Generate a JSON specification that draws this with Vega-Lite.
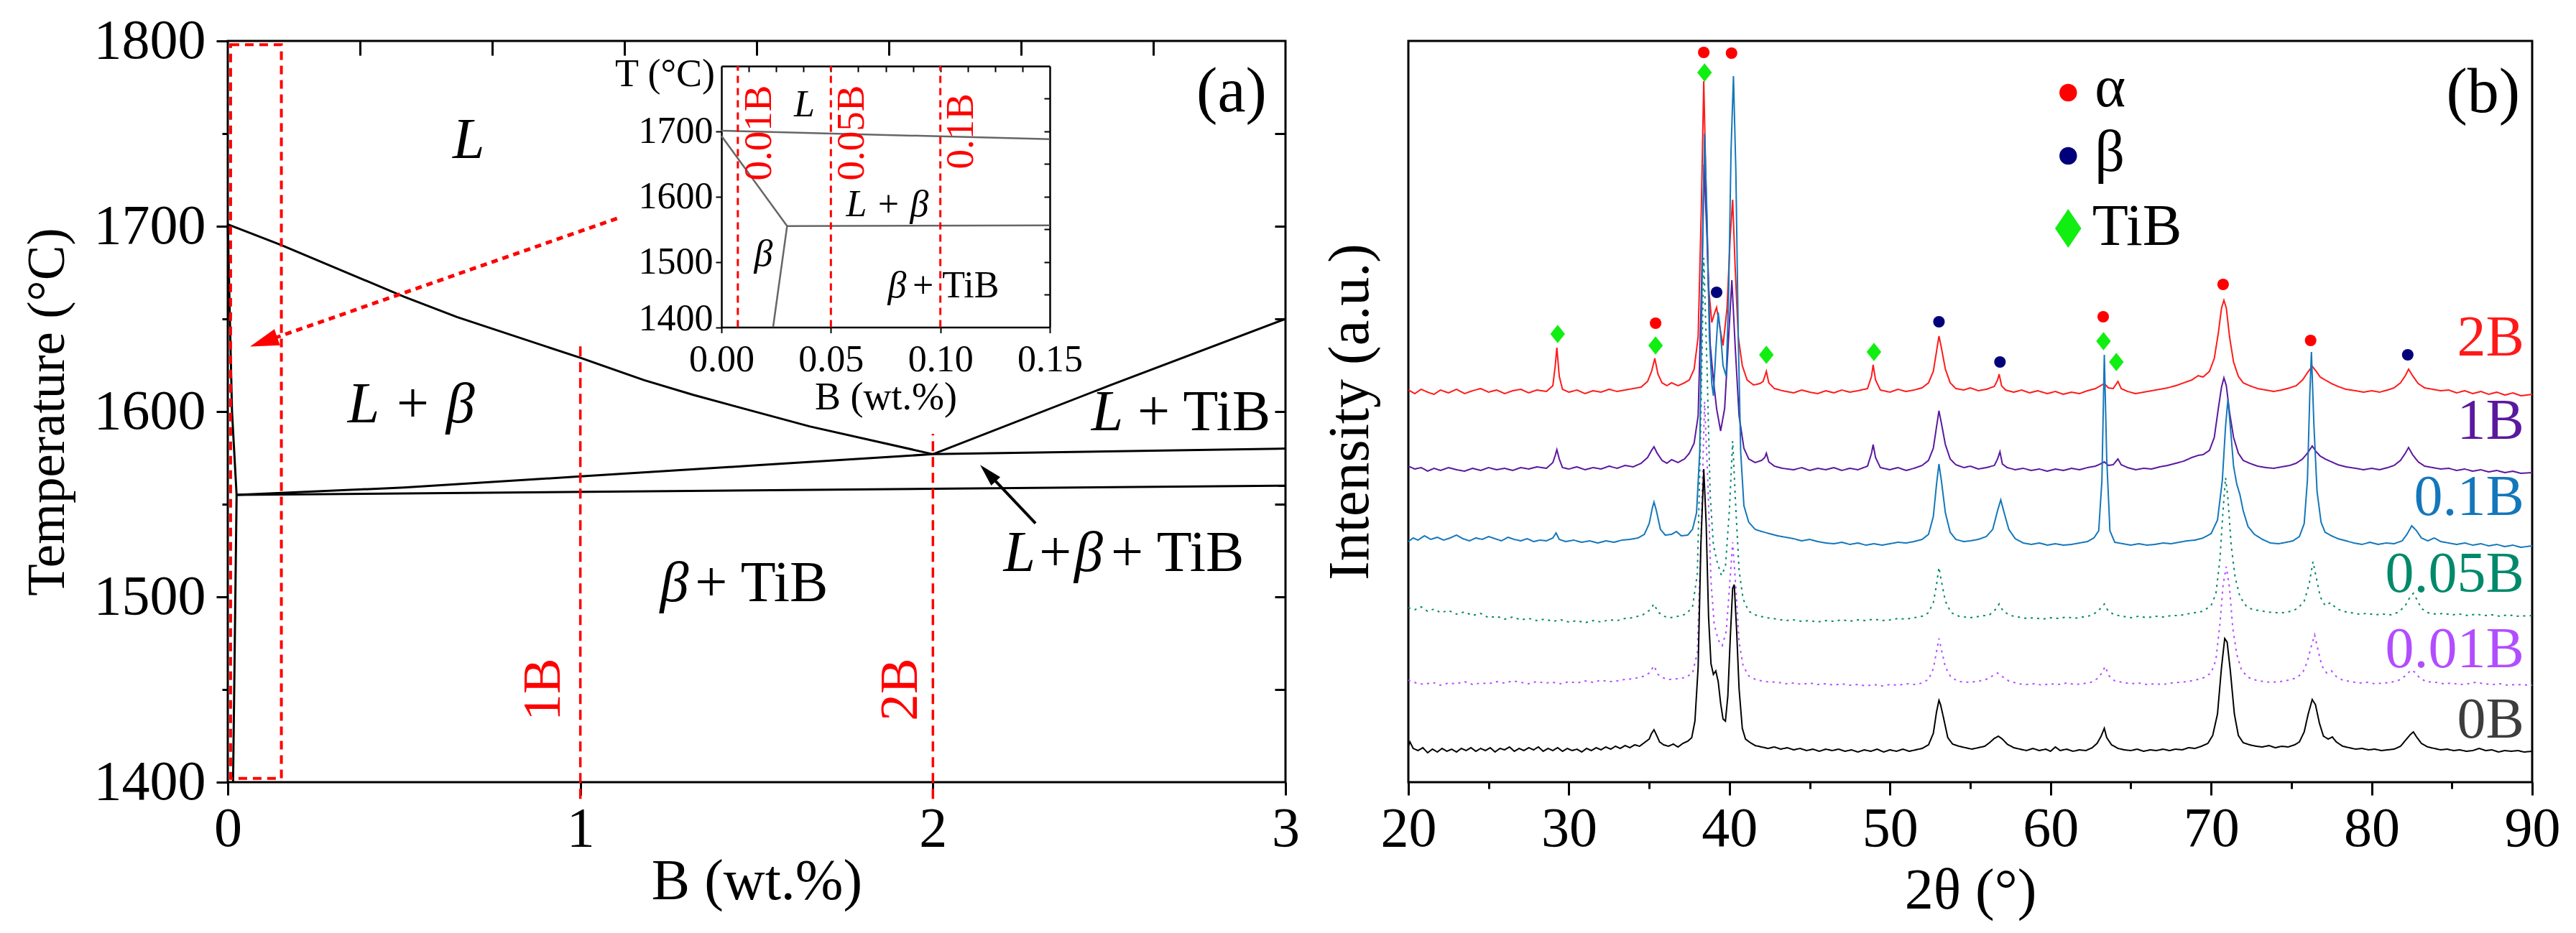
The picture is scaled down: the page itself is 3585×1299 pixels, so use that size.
{
"$schema": "https://vega.github.io/schema/vega-lite/v6.json",
"background": "white",
"padding": {"left": 28, "top": 16, "right": 0, "bottom": 0},
"bounds": "flush",
"spacing": 171,
"config": {
  "font": "Liberation Serif",
  "view": {"stroke": "black", "strokeWidth": 3},
  "axis": {"labelFont": "Liberation Serif", "titleFont": "Liberation Serif", "labelFontSize": 78, "titleFontSize": 80, "titleFontWeight": "normal", "labelColor": "black", "titleColor": "black", "tickColor": "black", "domainColor": "black", "grid": false, "tickWidth": 3, "labelFlush": false, "labelOverlap": false},
  "text": {"font": "Liberation Serif"}
},
"datasets": {
  "phase": [
    {"seg":"A","x":0,"y":1701},{"seg":"A","x":0.15,"y":1690},{"seg":"A","x":0.5,"y":1662},{"seg":"A","x":0.65,"y":1651},{"seg":"A","x":1,"y":1629},{"seg":"A","x":1.18,"y":1617},{"seg":"A","x":1.32,"y":1609},{"seg":"A","x":1.65,"y":1592},{"seg":"A","x":2,"y":1577},
    {"seg":"B","x":2,"y":1577},{"seg":"B","x":2.5,"y":1614},{"seg":"B","x":3,"y":1650},
    {"seg":"C","x":0.025,"y":1555},{"seg":"C","x":0.5,"y":1559},{"seg":"C","x":1,"y":1565},{"seg":"C","x":1.5,"y":1571},{"seg":"C","x":2,"y":1577},
    {"seg":"D","x":2,"y":1577},{"seg":"D","x":3,"y":1580},
    {"seg":"E","x":0.025,"y":1555},{"seg":"E","x":3,"y":1560},
    {"seg":"F","x":0,"y":1701},{"seg":"F","x":0.006,"y":1650},{"seg":"F","x":0.012,"y":1600},{"seg":"F","x":0.025,"y":1555},
    {"seg":"G","x":0.015,"y":1400},{"seg":"G","x":0.025,"y":1555}
  ],
  "mainv": [{"x":1,"y1":1391,"y2":1636},{"x":2,"y1":1391,"y2":1588}],
  "box": [{"x1":0.008,"x2":0.152,"y1":1402,"y2":1798}],
  "redArrow": [{"x":1.105,"y":1704.3},{"x":0.1017,"y":1637.6}],
  "blackArrow": [{"x":2.291,"y":1539.7},{"x":2.156,"y":1566.8}],
  "redHead": [{"x":0.1017,"y":1637.6}],
  "blackHead": [{"x":2.156,"y":1566.8}],
  "itC": [{"x":0.683,"y":1737,"t":"L"},{"x":0.52,"y":1594,"t":"L + β"}],
  "itR": [{"x":1.307,"y":1497.7,"t":"β"},{"x":2.482,"y":1513.8,"t":"L+β"},{"x":2.54,"y":1590,"t":"L"}],
  "upL": [{"x":1.325,"y":1497.7,"t":"+ TiB"},{"x":2.505,"y":1513.8,"t":"+ TiB"},{"x":2.58,"y":1590,"t":"+ TiB"}],
  "redLab": [{"x":0.894,"y":1450,"t":"1B"},{"x":1.907,"y":1450,"t":"2B"}],
  "panelA": [{"x":2.847,"y":1772,"t":"(a)"}],
  "inset": [
    {"seg":"a","x":0,"y":1701},{"seg":"a","x":0.15,"y":1688},
    {"seg":"b","x":0,"y":1693},{"seg":"b","x":0.03,"y":1555},
    {"seg":"c","x":0.03,"y":1555},{"seg":"c","x":0.15,"y":1556},
    {"seg":"d","x":0.0236,"y":1400},{"seg":"d","x":0.03,"y":1555}
  ],
  "insetv": [{"x":0.0075,"y1":1400,"y2":1800},{"x":0.05,"y1":1400,"y2":1800},{"x":0.1,"y1":1400,"y2":1800}],
  "inItC": [{"x":0.0379,"y":1723,"t":"L"},{"x":0.0758,"y":1570,"t":"L + β"},{"x":0.0192,"y":1494,"t":"β"}],
  "inItR": [{"x":0.0845,"y":1445.6,"t":"β"}],
  "inUpL": [{"x":0.0873,"y":1445.6,"t":"+ TiB"}],
  "inRed": [{"x":0.017,"y":1697.7,"t":"0.01B"},{"x":0.0594,"y":1697.7,"t":"0.05B"},{"x":0.1093,"y":1700,"t":"0.1B"}],
  "circles": [
    {"phase":"α","x":38.4,"y":1016},{"phase":"α","x":40.13,"y":1015},{"phase":"α","x":35.4,"y":639},{"phase":"α","x":63.28,"y":648},{"phase":"α","x":70.75,"y":693},{"phase":"α","x":76.2,"y":615},
    {"phase":"β","x":39.2,"y":682},{"phase":"β","x":53.05,"y":641},{"phase":"β","x":56.85,"y":585},{"phase":"β","x":82.25,"y":595}
  ],
  "diamonds": [
    {"phase":"TiB","x":38.45,"y":988},{"phase":"TiB","x":29.3,"y":624},{"phase":"TiB","x":35.4,"y":608},{"phase":"TiB","x":42.3,"y":595},{"phase":"TiB","x":49.0,"y":599},{"phase":"TiB","x":63.3,"y":614},{"phase":"TiB","x":64.1,"y":585}
  ],
  "legC": [{"phase":"α","x":61.1,"y":960},{"phase":"β","x":61.1,"y":872}],
  "legD": [{"phase":"TiB","x":61.1,"y":771}],
  "legT": [{"x":62.75,"y":941,"t":"α"},{"x":62.75,"y":851,"t":"β"},{"x":62.6,"y":748,"t":"TiB"}],
  "serLab": [{"s":"2B","x":89.5,"y":594},{"s":"1B","x":89.5,"y":478},{"s":"0.1B","x":89.5,"y":372},{"s":"0.05B","x":89.5,"y":265},{"s":"0.01B","x":89.5,"y":160},{"s":"0B","x":89.5,"y":62}],
  "panelB": [{"x":86.95,"y":959,"t":"(b)"}],
  "xrd": [
{"s":"2B","x":20,"y":546},{"s":"2B","x":20.4,"y":541},{"s":"2B","x":20.8,"y":547},{"s":"2B","x":21.2,"y":543},{"s":"2B","x":21.6,"y":540},{"s":"2B","x":22,"y":546},{"s":"2B","x":22.5,"y":542},{"s":"2B","x":23,"y":547},{"s":"2B","x":23.5,"y":541},{"s":"2B","x":24,"y":545},{"s":"2B","x":24.5,"y":548},{"s":"2B","x":25,"y":543},{"s":"2B","x":25.5,"y":546},{"s":"2B","x":26,"y":541},{"s":"2B","x":26.5,"y":545},{"s":"2B","x":27,"y":547},{"s":"2B","x":27.5,"y":542},{"s":"2B","x":28,"y":546},{"s":"2B","x":28.6,"y":544},{"s":"2B","x":29.0,"y":552},{"s":"2B","x":29.15,"y":580},{"s":"2B","x":29.25,"y":605},{"s":"2B","x":29.4,"y":565},{"s":"2B","x":29.6,"y":547},{"s":"2B","x":30,"y":543},{"s":"2B","x":30.5,"y":546},{"s":"2B","x":31,"y":541},{"s":"2B","x":31.5,"y":545},{"s":"2B","x":32,"y":543},{"s":"2B","x":32.5,"y":547},{"s":"2B","x":33,"y":544},{"s":"2B","x":33.5,"y":546},{"s":"2B","x":34,"y":548},{"s":"2B","x":34.5,"y":550},{"s":"2B","x":34.9,"y":558},{"s":"2B","x":35.15,"y":572},{"s":"2B","x":35.35,"y":590},{"s":"2B","x":35.55,"y":568},{"s":"2B","x":35.8,"y":556},{"s":"2B","x":36.1,"y":552},{"s":"2B","x":36.4,"y":556},{"s":"2B","x":36.8,"y":552},{"s":"2B","x":37.2,"y":556},{"s":"2B","x":37.5,"y":560},{"s":"2B","x":37.8,"y":575},{"s":"2B","x":38.05,"y":620},{"s":"2B","x":38.25,"y":800},{"s":"2B","x":38.4,"y":976},{"s":"2B","x":38.55,"y":820},{"s":"2B","x":38.7,"y":690},{"s":"2B","x":38.9,"y":640},{"s":"2B","x":39.1,"y":655},{"s":"2B","x":39.2,"y":661},{"s":"2B","x":39.35,"y":640},{"s":"2B","x":39.6,"y":608},{"s":"2B","x":39.85,"y":660},{"s":"2B","x":40.05,"y":760},{"s":"2B","x":40.2,"y":811},{"s":"2B","x":40.35,"y":720},{"s":"2B","x":40.55,"y":620},{"s":"2B","x":40.8,"y":580},{"s":"2B","x":41.1,"y":560},{"s":"2B","x":41.5,"y":553},{"s":"2B","x":41.9,"y":555},{"s":"2B","x":42.1,"y":558},{"s":"2B","x":42.3,"y":572},{"s":"2B","x":42.45,"y":556},{"s":"2B","x":42.8,"y":548},{"s":"2B","x":43.3,"y":545},{"s":"2B","x":44,"y":542},{"s":"2B","x":44.5,"y":546},{"s":"2B","x":45,"y":543},{"s":"2B","x":45.5,"y":541},{"s":"2B","x":46,"y":545},{"s":"2B","x":46.5,"y":542},{"s":"2B","x":47,"y":546},{"s":"2B","x":47.5,"y":543},{"s":"2B","x":48,"y":545},{"s":"2B","x":48.6,"y":548},{"s":"2B","x":48.85,"y":565},{"s":"2B","x":48.95,"y":581},{"s":"2B","x":49.1,"y":560},{"s":"2B","x":49.4,"y":546},{"s":"2B","x":50,"y":543},{"s":"2B","x":50.5,"y":547},{"s":"2B","x":51,"y":544},{"s":"2B","x":51.5,"y":546},{"s":"2B","x":52,"y":549},{"s":"2B","x":52.4,"y":556},{"s":"2B","x":52.7,"y":572},{"s":"2B","x":52.9,"y":600},{"s":"2B","x":53.05,"y":621},{"s":"2B","x":53.2,"y":605},{"s":"2B","x":53.45,"y":575},{"s":"2B","x":53.75,"y":556},{"s":"2B","x":54.1,"y":548},{"s":"2B","x":54.6,"y":546},{"s":"2B","x":55,"y":549},{"s":"2B","x":55.5,"y":545},{"s":"2B","x":56,"y":547},{"s":"2B","x":56.5,"y":551},{"s":"2B","x":56.7,"y":560},{"s":"2B","x":56.8,"y":568},{"s":"2B","x":56.95,"y":552},{"s":"2B","x":57.2,"y":546},{"s":"2B","x":57.7,"y":543},{"s":"2B","x":58.2,"y":546},{"s":"2B","x":58.7,"y":542},{"s":"2B","x":59.2,"y":545},{"s":"2B","x":59.8,"y":541},{"s":"2B","x":60.3,"y":544},{"s":"2B","x":60.8,"y":540},{"s":"2B","x":61.3,"y":543},{"s":"2B","x":61.8,"y":541},{"s":"2B","x":62.3,"y":545},{"s":"2B","x":62.8,"y":548},{"s":"2B","x":63.2,"y":553},{"s":"2B","x":63.35,"y":555},{"s":"2B","x":63.6,"y":549},{"s":"2B","x":63.9,"y":548},{"s":"2B","x":64.2,"y":558},{"s":"2B","x":64.4,"y":548},{"s":"2B","x":64.8,"y":544},{"s":"2B","x":65.3,"y":541},{"s":"2B","x":65.8,"y":543},{"s":"2B","x":66.3,"y":545},{"s":"2B","x":66.8,"y":547},{"s":"2B","x":67.3,"y":549},{"s":"2B","x":67.8,"y":552},{"s":"2B","x":68.3,"y":556},{"s":"2B","x":68.8,"y":560},{"s":"2B","x":69.2,"y":566},{"s":"2B","x":69.5,"y":564},{"s":"2B","x":69.9,"y":572},{"s":"2B","x":70.2,"y":590},{"s":"2B","x":70.45,"y":625},{"s":"2B","x":70.65,"y":660},{"s":"2B","x":70.8,"y":671},{"s":"2B","x":70.95,"y":660},{"s":"2B","x":71.15,"y":620},{"s":"2B","x":71.4,"y":585},{"s":"2B","x":71.7,"y":565},{"s":"2B","x":72.0,"y":556},{"s":"2B","x":72.4,"y":552},{"s":"2B","x":72.9,"y":548},{"s":"2B","x":73.4,"y":546},{"s":"2B","x":73.9,"y":544},{"s":"2B","x":74.4,"y":546},{"s":"2B","x":74.9,"y":549},{"s":"2B","x":75.3,"y":552},{"s":"2B","x":75.7,"y":560},{"s":"2B","x":76.0,"y":570},{"s":"2B","x":76.3,"y":579},{"s":"2B","x":76.55,"y":572},{"s":"2B","x":76.8,"y":564},{"s":"2B","x":77.1,"y":560},{"s":"2B","x":77.5,"y":555},{"s":"2B","x":77.9,"y":551},{"s":"2B","x":78.4,"y":547},{"s":"2B","x":79,"y":545},{"s":"2B","x":79.5,"y":543},{"s":"2B","x":80,"y":545},{"s":"2B","x":80.5,"y":543},{"s":"2B","x":81,"y":546},{"s":"2B","x":81.4,"y":549},{"s":"2B","x":81.8,"y":556},{"s":"2B","x":82.1,"y":566},{"s":"2B","x":82.3,"y":575},{"s":"2B","x":82.55,"y":566},{"s":"2B","x":82.9,"y":555},{"s":"2B","x":83.3,"y":549},{"s":"2B","x":83.8,"y":547},{"s":"2B","x":84.3,"y":545},{"s":"2B","x":84.8,"y":546},{"s":"2B","x":85.3,"y":542},{"s":"2B","x":85.8,"y":545},{"s":"2B","x":86.3,"y":541},{"s":"2B","x":86.8,"y":544},{"s":"2B","x":87.3,"y":540},{"s":"2B","x":87.8,"y":543},{"s":"2B","x":88.3,"y":539},{"s":"2B","x":88.8,"y":542},{"s":"2B","x":89.3,"y":538},{"s":"2B","x":90,"y":540},
{"s":"1B","x":20,"y":440},{"s":"1B","x":20.4,"y":436},{"s":"1B","x":20.8,"y":438},{"s":"1B","x":21.2,"y":433},{"s":"1B","x":21.6,"y":437},{"s":"1B","x":22,"y":434},{"s":"1B","x":22.5,"y":438},{"s":"1B","x":23,"y":435},{"s":"1B","x":23.5,"y":433},{"s":"1B","x":24,"y":437},{"s":"1B","x":24.5,"y":434},{"s":"1B","x":25,"y":438},{"s":"1B","x":25.5,"y":435},{"s":"1B","x":26,"y":437},{"s":"1B","x":26.5,"y":434},{"s":"1B","x":27,"y":438},{"s":"1B","x":27.5,"y":436},{"s":"1B","x":28,"y":439},{"s":"1B","x":28.6,"y":437},{"s":"1B","x":29.0,"y":445},{"s":"1B","x":29.15,"y":455},{"s":"1B","x":29.25,"y":463},{"s":"1B","x":29.4,"y":450},{"s":"1B","x":29.6,"y":438},{"s":"1B","x":30,"y":436},{"s":"1B","x":30.5,"y":439},{"s":"1B","x":31,"y":435},{"s":"1B","x":31.5,"y":438},{"s":"1B","x":32,"y":436},{"s":"1B","x":32.5,"y":440},{"s":"1B","x":33,"y":437},{"s":"1B","x":33.5,"y":441},{"s":"1B","x":34,"y":439},{"s":"1B","x":34.5,"y":444},{"s":"1B","x":34.9,"y":452},{"s":"1B","x":35.15,"y":462},{"s":"1B","x":35.3,"y":467},{"s":"1B","x":35.5,"y":458},{"s":"1B","x":35.8,"y":448},{"s":"1B","x":36.1,"y":444},{"s":"1B","x":36.4,"y":449},{"s":"1B","x":36.8,"y":445},{"s":"1B","x":37.2,"y":450},{"s":"1B","x":37.5,"y":458},{"s":"1B","x":37.8,"y":472},{"s":"1B","x":38.05,"y":510},{"s":"1B","x":38.25,"y":680},{"s":"1B","x":38.42,"y":860},{"s":"1B","x":38.6,"y":760},{"s":"1B","x":38.8,"y":610},{"s":"1B","x":39.0,"y":560},{"s":"1B","x":39.2,"y":520},{"s":"1B","x":39.45,"y":489},{"s":"1B","x":39.7,"y":520},{"s":"1B","x":39.95,"y":620},{"s":"1B","x":40.15,"y":699},{"s":"1B","x":40.35,"y":610},{"s":"1B","x":40.6,"y":510},{"s":"1B","x":40.9,"y":465},{"s":"1B","x":41.2,"y":450},{"s":"1B","x":41.6,"y":445},{"s":"1B","x":42.0,"y":448},{"s":"1B","x":42.2,"y":452},{"s":"1B","x":42.3,"y":458},{"s":"1B","x":42.45,"y":446},{"s":"1B","x":42.8,"y":440},{"s":"1B","x":43.3,"y":437},{"s":"1B","x":44,"y":435},{"s":"1B","x":44.5,"y":438},{"s":"1B","x":45,"y":434},{"s":"1B","x":45.5,"y":437},{"s":"1B","x":46,"y":435},{"s":"1B","x":46.5,"y":438},{"s":"1B","x":47,"y":434},{"s":"1B","x":47.5,"y":437},{"s":"1B","x":48,"y":435},{"s":"1B","x":48.6,"y":440},{"s":"1B","x":48.85,"y":458},{"s":"1B","x":48.95,"y":470},{"s":"1B","x":49.1,"y":452},{"s":"1B","x":49.4,"y":438},{"s":"1B","x":50,"y":435},{"s":"1B","x":50.5,"y":438},{"s":"1B","x":51,"y":434},{"s":"1B","x":51.5,"y":437},{"s":"1B","x":52,"y":441},{"s":"1B","x":52.4,"y":448},{"s":"1B","x":52.7,"y":465},{"s":"1B","x":52.9,"y":495},{"s":"1B","x":53.05,"y":517},{"s":"1B","x":53.2,"y":500},{"s":"1B","x":53.45,"y":470},{"s":"1B","x":53.75,"y":450},{"s":"1B","x":54.1,"y":442},{"s":"1B","x":54.6,"y":438},{"s":"1B","x":55,"y":440},{"s":"1B","x":55.5,"y":436},{"s":"1B","x":56,"y":438},{"s":"1B","x":56.5,"y":441},{"s":"1B","x":56.7,"y":450},{"s":"1B","x":56.85,"y":460},{"s":"1B","x":57.0,"y":443},{"s":"1B","x":57.3,"y":438},{"s":"1B","x":57.8,"y":435},{"s":"1B","x":58.3,"y":437},{"s":"1B","x":58.8,"y":434},{"s":"1B","x":59.3,"y":436},{"s":"1B","x":59.8,"y":433},{"s":"1B","x":60.3,"y":436},{"s":"1B","x":60.8,"y":434},{"s":"1B","x":61.3,"y":437},{"s":"1B","x":61.8,"y":435},{"s":"1B","x":62.3,"y":438},{"s":"1B","x":62.8,"y":440},{"s":"1B","x":63.2,"y":444},{"s":"1B","x":63.35,"y":446},{"s":"1B","x":63.6,"y":441},{"s":"1B","x":63.9,"y":442},{"s":"1B","x":64.2,"y":450},{"s":"1B","x":64.4,"y":442},{"s":"1B","x":64.8,"y":438},{"s":"1B","x":65.3,"y":435},{"s":"1B","x":65.8,"y":437},{"s":"1B","x":66.3,"y":436},{"s":"1B","x":66.8,"y":439},{"s":"1B","x":67.3,"y":441},{"s":"1B","x":67.8,"y":444},{"s":"1B","x":68.3,"y":447},{"s":"1B","x":68.8,"y":452},{"s":"1B","x":69.2,"y":455},{"s":"1B","x":69.5,"y":456},{"s":"1B","x":69.9,"y":462},{"s":"1B","x":70.2,"y":480},{"s":"1B","x":70.45,"y":520},{"s":"1B","x":70.65,"y":550},{"s":"1B","x":70.8,"y":563},{"s":"1B","x":70.95,"y":552},{"s":"1B","x":71.15,"y":515},{"s":"1B","x":71.4,"y":480},{"s":"1B","x":71.7,"y":458},{"s":"1B","x":72.0,"y":448},{"s":"1B","x":72.4,"y":444},{"s":"1B","x":72.9,"y":440},{"s":"1B","x":73.4,"y":438},{"s":"1B","x":73.9,"y":437},{"s":"1B","x":74.4,"y":439},{"s":"1B","x":74.9,"y":441},{"s":"1B","x":75.3,"y":444},{"s":"1B","x":75.7,"y":450},{"s":"1B","x":76.0,"y":458},{"s":"1B","x":76.3,"y":468},{"s":"1B","x":76.55,"y":460},{"s":"1B","x":76.8,"y":454},{"s":"1B","x":77.1,"y":450},{"s":"1B","x":77.5,"y":446},{"s":"1B","x":77.9,"y":442},{"s":"1B","x":78.4,"y":439},{"s":"1B","x":79,"y":437},{"s":"1B","x":79.5,"y":435},{"s":"1B","x":80,"y":437},{"s":"1B","x":80.5,"y":435},{"s":"1B","x":81,"y":438},{"s":"1B","x":81.4,"y":441},{"s":"1B","x":81.8,"y":448},{"s":"1B","x":82.1,"y":458},{"s":"1B","x":82.3,"y":466},{"s":"1B","x":82.55,"y":456},{"s":"1B","x":82.9,"y":446},{"s":"1B","x":83.3,"y":440},{"s":"1B","x":83.8,"y":438},{"s":"1B","x":84.3,"y":436},{"s":"1B","x":84.8,"y":437},{"s":"1B","x":85.3,"y":434},{"s":"1B","x":85.8,"y":436},{"s":"1B","x":86.3,"y":433},{"s":"1B","x":86.8,"y":435},{"s":"1B","x":87.3,"y":432},{"s":"1B","x":87.8,"y":434},{"s":"1B","x":88.3,"y":431},{"s":"1B","x":88.8,"y":433},{"s":"1B","x":89.3,"y":430},{"s":"1B","x":90,"y":431},
{"s":"0.1B","x":20,"y":335},{"s":"0.1B","x":20.3,"y":340},{"s":"0.1B","x":20.6,"y":337},{"s":"0.1B","x":21,"y":343},{"s":"0.1B","x":21.4,"y":338},{"s":"0.1B","x":21.8,"y":341},{"s":"0.1B","x":22.2,"y":337},{"s":"0.1B","x":22.6,"y":340},{"s":"0.1B","x":23,"y":344},{"s":"0.1B","x":23.4,"y":339},{"s":"0.1B","x":23.8,"y":336},{"s":"0.1B","x":24.2,"y":340},{"s":"0.1B","x":24.6,"y":338},{"s":"0.1B","x":25,"y":342},{"s":"0.1B","x":25.4,"y":339},{"s":"0.1B","x":25.8,"y":336},{"s":"0.1B","x":26.2,"y":341},{"s":"0.1B","x":26.6,"y":338},{"s":"0.1B","x":27,"y":336},{"s":"0.1B","x":27.4,"y":339},{"s":"0.1B","x":27.8,"y":335},{"s":"0.1B","x":28.2,"y":337},{"s":"0.1B","x":28.6,"y":336},{"s":"0.1B","x":29.0,"y":340},{"s":"0.1B","x":29.2,"y":347},{"s":"0.1B","x":29.4,"y":338},{"s":"0.1B","x":29.8,"y":335},{"s":"0.1B","x":30.3,"y":337},{"s":"0.1B","x":30.8,"y":334},{"s":"0.1B","x":31.3,"y":336},{"s":"0.1B","x":31.8,"y":333},{"s":"0.1B","x":32.3,"y":336},{"s":"0.1B","x":32.8,"y":334},{"s":"0.1B","x":33.3,"y":337},{"s":"0.1B","x":33.8,"y":338},{"s":"0.1B","x":34.3,"y":340},{"s":"0.1B","x":34.7,"y":345},{"s":"0.1B","x":35.0,"y":360},{"s":"0.1B","x":35.2,"y":382},{"s":"0.1B","x":35.3,"y":390},{"s":"0.1B","x":35.45,"y":378},{"s":"0.1B","x":35.7,"y":352},{"s":"0.1B","x":36.0,"y":344},{"s":"0.1B","x":36.4,"y":345},{"s":"0.1B","x":36.7,"y":349},{"s":"0.1B","x":37.0,"y":343},{"s":"0.1B","x":37.4,"y":344},{"s":"0.1B","x":37.7,"y":352},{"s":"0.1B","x":37.95,"y":375},{"s":"0.1B","x":38.15,"y":460},{"s":"0.1B","x":38.3,"y":700},{"s":"0.1B","x":38.45,"y":903},{"s":"0.1B","x":38.6,"y":790},{"s":"0.1B","x":38.75,"y":620},{"s":"0.1B","x":38.9,"y":555},{"s":"0.1B","x":39.0,"y":538},{"s":"0.1B","x":39.15,"y":600},{"s":"0.1B","x":39.3,"y":654},{"s":"0.1B","x":39.45,"y":625},{"s":"0.1B","x":39.6,"y":580},{"s":"0.1B","x":39.8,"y":565},{"s":"0.1B","x":39.95,"y":680},{"s":"0.1B","x":40.1,"y":880},{"s":"0.1B","x":40.25,"y":983},{"s":"0.1B","x":40.4,"y":850},{"s":"0.1B","x":40.55,"y":620},{"s":"0.1B","x":40.7,"y":460},{"s":"0.1B","x":40.9,"y":385},{"s":"0.1B","x":41.2,"y":362},{"s":"0.1B","x":41.6,"y":352},{"s":"0.1B","x":42.0,"y":349},{"s":"0.1B","x":42.5,"y":346},{"s":"0.1B","x":43,"y":343},{"s":"0.1B","x":43.5,"y":341},{"s":"0.1B","x":44,"y":339},{"s":"0.1B","x":44.5,"y":336},{"s":"0.1B","x":45,"y":338},{"s":"0.1B","x":45.5,"y":335},{"s":"0.1B","x":46,"y":333},{"s":"0.1B","x":46.5,"y":332},{"s":"0.1B","x":47,"y":334},{"s":"0.1B","x":47.5,"y":331},{"s":"0.1B","x":48,"y":333},{"s":"0.1B","x":48.5,"y":330},{"s":"0.1B","x":49,"y":332},{"s":"0.1B","x":49.5,"y":330},{"s":"0.1B","x":50,"y":332},{"s":"0.1B","x":50.5,"y":334},{"s":"0.1B","x":51,"y":333},{"s":"0.1B","x":51.5,"y":335},{"s":"0.1B","x":52,"y":338},{"s":"0.1B","x":52.4,"y":345},{"s":"0.1B","x":52.7,"y":370},{"s":"0.1B","x":52.9,"y":415},{"s":"0.1B","x":53.05,"y":443},{"s":"0.1B","x":53.2,"y":420},{"s":"0.1B","x":53.45,"y":375},{"s":"0.1B","x":53.75,"y":348},{"s":"0.1B","x":54.1,"y":338},{"s":"0.1B","x":54.6,"y":335},{"s":"0.1B","x":55,"y":336},{"s":"0.1B","x":55.5,"y":338},{"s":"0.1B","x":56.0,"y":342},{"s":"0.1B","x":56.4,"y":352},{"s":"0.1B","x":56.7,"y":378},{"s":"0.1B","x":56.9,"y":393},{"s":"0.1B","x":57.1,"y":376},{"s":"0.1B","x":57.4,"y":352},{"s":"0.1B","x":57.8,"y":339},{"s":"0.1B","x":58.3,"y":333},{"s":"0.1B","x":58.8,"y":331},{"s":"0.1B","x":59.3,"y":333},{"s":"0.1B","x":59.8,"y":330},{"s":"0.1B","x":60.3,"y":332},{"s":"0.1B","x":60.8,"y":330},{"s":"0.1B","x":61.3,"y":331},{"s":"0.1B","x":61.8,"y":333},{"s":"0.1B","x":62.3,"y":335},{"s":"0.1B","x":62.7,"y":340},{"s":"0.1B","x":63.0,"y":350},{"s":"0.1B","x":63.2,"y":420},{"s":"0.1B","x":63.35,"y":595},{"s":"0.1B","x":63.5,"y":450},{"s":"0.1B","x":63.7,"y":350},{"s":"0.1B","x":64.0,"y":334},{"s":"0.1B","x":64.5,"y":332},{"s":"0.1B","x":65,"y":330},{"s":"0.1B","x":65.5,"y":332},{"s":"0.1B","x":66,"y":330},{"s":"0.1B","x":66.5,"y":331},{"s":"0.1B","x":67,"y":333},{"s":"0.1B","x":67.5,"y":332},{"s":"0.1B","x":68,"y":334},{"s":"0.1B","x":68.5,"y":336},{"s":"0.1B","x":69,"y":337},{"s":"0.1B","x":69.5,"y":340},{"s":"0.1B","x":70.0,"y":346},{"s":"0.1B","x":70.4,"y":365},{"s":"0.1B","x":70.7,"y":420},{"s":"0.1B","x":70.9,"y":495},{"s":"0.1B","x":71.05,"y":533},{"s":"0.1B","x":71.2,"y":495},{"s":"0.1B","x":71.4,"y":440},{"s":"0.1B","x":71.6,"y":415},{"s":"0.1B","x":71.8,"y":400},{"s":"0.1B","x":72.0,"y":378},{"s":"0.1B","x":72.3,"y":356},{"s":"0.1B","x":72.7,"y":345},{"s":"0.1B","x":73.2,"y":338},{"s":"0.1B","x":73.7,"y":333},{"s":"0.1B","x":74.2,"y":332},{"s":"0.1B","x":74.7,"y":334},{"s":"0.1B","x":75.1,"y":336},{"s":"0.1B","x":75.5,"y":342},{"s":"0.1B","x":75.8,"y":360},{"s":"0.1B","x":76.0,"y":420},{"s":"0.1B","x":76.15,"y":540},{"s":"0.1B","x":76.25,"y":599},{"s":"0.1B","x":76.4,"y":500},{"s":"0.1B","x":76.6,"y":405},{"s":"0.1B","x":76.85,"y":362},{"s":"0.1B","x":77.1,"y":348},{"s":"0.1B","x":77.5,"y":343},{"s":"0.1B","x":77.9,"y":339},{"s":"0.1B","x":78.4,"y":336},{"s":"0.1B","x":78.9,"y":333},{"s":"0.1B","x":79.4,"y":331},{"s":"0.1B","x":79.9,"y":334},{"s":"0.1B","x":80.4,"y":331},{"s":"0.1B","x":80.9,"y":333},{"s":"0.1B","x":81.4,"y":332},{"s":"0.1B","x":81.9,"y":336},{"s":"0.1B","x":82.2,"y":345},{"s":"0.1B","x":82.5,"y":357},{"s":"0.1B","x":82.8,"y":350},{"s":"0.1B","x":83.1,"y":340},{"s":"0.1B","x":83.5,"y":336},{"s":"0.1B","x":83.9,"y":340},{"s":"0.1B","x":84.3,"y":335},{"s":"0.1B","x":84.8,"y":333},{"s":"0.1B","x":85.3,"y":331},{"s":"0.1B","x":85.8,"y":333},{"s":"0.1B","x":86.3,"y":330},{"s":"0.1B","x":86.8,"y":332},{"s":"0.1B","x":87.3,"y":329},{"s":"0.1B","x":87.8,"y":331},{"s":"0.1B","x":88.3,"y":328},{"s":"0.1B","x":88.8,"y":330},{"s":"0.1B","x":89.3,"y":327},{"s":"0.1B","x":90,"y":329},
{"s":"0.05B","x":20,"y":243},{"s":"0.05B","x":20.4,"y":240},{"s":"0.05B","x":20.8,"y":244},{"s":"0.05B","x":21.2,"y":238},{"s":"0.05B","x":21.6,"y":241},{"s":"0.05B","x":22,"y":236},{"s":"0.05B","x":22.5,"y":239},{"s":"0.05B","x":23,"y":234},{"s":"0.05B","x":23.5,"y":237},{"s":"0.05B","x":24,"y":232},{"s":"0.05B","x":24.5,"y":235},{"s":"0.05B","x":25,"y":229},{"s":"0.05B","x":25.5,"y":231},{"s":"0.05B","x":26,"y":227},{"s":"0.05B","x":26.5,"y":230},{"s":"0.05B","x":27,"y":226},{"s":"0.05B","x":27.5,"y":228},{"s":"0.05B","x":28,"y":225},{"s":"0.05B","x":28.5,"y":227},{"s":"0.05B","x":29,"y":224},{"s":"0.05B","x":29.5,"y":226},{"s":"0.05B","x":30,"y":223},{"s":"0.05B","x":30.5,"y":225},{"s":"0.05B","x":31,"y":222},{"s":"0.05B","x":31.5,"y":225},{"s":"0.05B","x":32,"y":223},{"s":"0.05B","x":32.5,"y":226},{"s":"0.05B","x":33,"y":225},{"s":"0.05B","x":33.5,"y":228},{"s":"0.05B","x":34,"y":229},{"s":"0.05B","x":34.6,"y":233},{"s":"0.05B","x":35.0,"y":239},{"s":"0.05B","x":35.3,"y":248},{"s":"0.05B","x":35.55,"y":237},{"s":"0.05B","x":35.9,"y":231},{"s":"0.05B","x":36.3,"y":229},{"s":"0.05B","x":36.8,"y":231},{"s":"0.05B","x":37.3,"y":234},{"s":"0.05B","x":37.7,"y":244},{"s":"0.05B","x":38.0,"y":290},{"s":"0.05B","x":38.2,"y":480},{"s":"0.05B","x":38.4,"y":730},{"s":"0.05B","x":38.6,"y":580},{"s":"0.05B","x":38.8,"y":400},{"s":"0.05B","x":39.0,"y":330},{"s":"0.05B","x":39.25,"y":305},{"s":"0.05B","x":39.5,"y":288},{"s":"0.05B","x":39.75,"y":300},{"s":"0.05B","x":40.0,"y":380},{"s":"0.05B","x":40.2,"y":475},{"s":"0.05B","x":40.4,"y":380},{"s":"0.05B","x":40.6,"y":295},{"s":"0.05B","x":40.85,"y":255},{"s":"0.05B","x":41.2,"y":238},{"s":"0.05B","x":41.7,"y":232},{"s":"0.05B","x":42.3,"y":229},{"s":"0.05B","x":43,"y":227},{"s":"0.05B","x":43.5,"y":225},{"s":"0.05B","x":44,"y":226},{"s":"0.05B","x":44.5,"y":224},{"s":"0.05B","x":45,"y":225},{"s":"0.05B","x":45.5,"y":223},{"s":"0.05B","x":46,"y":225},{"s":"0.05B","x":46.5,"y":224},{"s":"0.05B","x":47,"y":226},{"s":"0.05B","x":47.5,"y":224},{"s":"0.05B","x":48,"y":226},{"s":"0.05B","x":48.5,"y":225},{"s":"0.05B","x":49,"y":227},{"s":"0.05B","x":49.5,"y":225},{"s":"0.05B","x":50,"y":226},{"s":"0.05B","x":50.5,"y":228},{"s":"0.05B","x":51,"y":227},{"s":"0.05B","x":51.5,"y":229},{"s":"0.05B","x":52,"y":231},{"s":"0.05B","x":52.4,"y":236},{"s":"0.05B","x":52.7,"y":250},{"s":"0.05B","x":52.9,"y":275},{"s":"0.05B","x":53.05,"y":299},{"s":"0.05B","x":53.2,"y":280},{"s":"0.05B","x":53.45,"y":252},{"s":"0.05B","x":53.8,"y":236},{"s":"0.05B","x":54.3,"y":231},{"s":"0.05B","x":55,"y":229},{"s":"0.05B","x":55.6,"y":231},{"s":"0.05B","x":56.2,"y":233},{"s":"0.05B","x":56.55,"y":240},{"s":"0.05B","x":56.8,"y":248},{"s":"0.05B","x":57.05,"y":238},{"s":"0.05B","x":57.5,"y":232},{"s":"0.05B","x":58,"y":230},{"s":"0.05B","x":58.5,"y":228},{"s":"0.05B","x":59,"y":229},{"s":"0.05B","x":59.5,"y":227},{"s":"0.05B","x":60,"y":229},{"s":"0.05B","x":60.5,"y":228},{"s":"0.05B","x":61,"y":230},{"s":"0.05B","x":61.5,"y":228},{"s":"0.05B","x":62,"y":230},{"s":"0.05B","x":62.5,"y":232},{"s":"0.05B","x":62.9,"y":237},{"s":"0.05B","x":63.2,"y":244},{"s":"0.05B","x":63.35,"y":248},{"s":"0.05B","x":63.6,"y":238},{"s":"0.05B","x":64,"y":233},{"s":"0.05B","x":64.5,"y":231},{"s":"0.05B","x":65,"y":229},{"s":"0.05B","x":65.5,"y":231},{"s":"0.05B","x":66,"y":229},{"s":"0.05B","x":66.5,"y":231},{"s":"0.05B","x":67,"y":230},{"s":"0.05B","x":67.5,"y":232},{"s":"0.05B","x":68,"y":232},{"s":"0.05B","x":68.5,"y":234},{"s":"0.05B","x":69,"y":236},{"s":"0.05B","x":69.5,"y":238},{"s":"0.05B","x":70.0,"y":246},{"s":"0.05B","x":70.3,"y":262},{"s":"0.05B","x":70.55,"y":310},{"s":"0.05B","x":70.75,"y":380},{"s":"0.05B","x":70.9,"y":424},{"s":"0.05B","x":71.05,"y":395},{"s":"0.05B","x":71.25,"y":330},{"s":"0.05B","x":71.5,"y":285},{"s":"0.05B","x":71.8,"y":258},{"s":"0.05B","x":72.2,"y":245},{"s":"0.05B","x":72.6,"y":240},{"s":"0.05B","x":73,"y":239},{"s":"0.05B","x":73.5,"y":237},{"s":"0.05B","x":74,"y":236},{"s":"0.05B","x":74.5,"y":236},{"s":"0.05B","x":75,"y":238},{"s":"0.05B","x":75.4,"y":242},{"s":"0.05B","x":75.8,"y":252},{"s":"0.05B","x":76.1,"y":275},{"s":"0.05B","x":76.35,"y":307},{"s":"0.05B","x":76.55,"y":285},{"s":"0.05B","x":76.8,"y":258},{"s":"0.05B","x":77.1,"y":246},{"s":"0.05B","x":77.45,"y":250},{"s":"0.05B","x":77.8,"y":242},{"s":"0.05B","x":78.2,"y":238},{"s":"0.05B","x":78.7,"y":236},{"s":"0.05B","x":79.2,"y":234},{"s":"0.05B","x":79.7,"y":235},{"s":"0.05B","x":80.2,"y":233},{"s":"0.05B","x":80.7,"y":234},{"s":"0.05B","x":81.2,"y":233},{"s":"0.05B","x":81.7,"y":237},{"s":"0.05B","x":82.1,"y":246},{"s":"0.05B","x":82.4,"y":258},{"s":"0.05B","x":82.6,"y":263},{"s":"0.05B","x":82.8,"y":255},{"s":"0.05B","x":83.1,"y":242},{"s":"0.05B","x":83.5,"y":236},{"s":"0.05B","x":84,"y":234},{"s":"0.05B","x":84.5,"y":235},{"s":"0.05B","x":85,"y":233},{"s":"0.05B","x":85.5,"y":234},{"s":"0.05B","x":86,"y":232},{"s":"0.05B","x":86.5,"y":234},{"s":"0.05B","x":87,"y":232},{"s":"0.05B","x":87.5,"y":233},{"s":"0.05B","x":88,"y":231},{"s":"0.05B","x":88.5,"y":233},{"s":"0.05B","x":89,"y":231},{"s":"0.05B","x":90,"y":232},
{"s":"0.01B","x":20,"y":142},{"s":"0.01B","x":20.5,"y":138},{"s":"0.01B","x":21,"y":136},{"s":"0.01B","x":21.5,"y":139},{"s":"0.01B","x":22,"y":135},{"s":"0.01B","x":22.5,"y":138},{"s":"0.01B","x":23,"y":137},{"s":"0.01B","x":23.5,"y":140},{"s":"0.01B","x":24,"y":136},{"s":"0.01B","x":24.5,"y":138},{"s":"0.01B","x":25,"y":137},{"s":"0.01B","x":25.5,"y":140},{"s":"0.01B","x":26,"y":138},{"s":"0.01B","x":26.5,"y":141},{"s":"0.01B","x":27,"y":139},{"s":"0.01B","x":27.5,"y":137},{"s":"0.01B","x":28,"y":140},{"s":"0.01B","x":28.5,"y":138},{"s":"0.01B","x":29,"y":139},{"s":"0.01B","x":29.5,"y":137},{"s":"0.01B","x":30,"y":140},{"s":"0.01B","x":30.5,"y":138},{"s":"0.01B","x":31,"y":141},{"s":"0.01B","x":31.5,"y":139},{"s":"0.01B","x":32,"y":142},{"s":"0.01B","x":32.5,"y":140},{"s":"0.01B","x":33,"y":141},{"s":"0.01B","x":33.5,"y":143},{"s":"0.01B","x":34,"y":144},{"s":"0.01B","x":34.6,"y":147},{"s":"0.01B","x":35.0,"y":152},{"s":"0.01B","x":35.3,"y":162},{"s":"0.01B","x":35.55,"y":150},{"s":"0.01B","x":35.9,"y":145},{"s":"0.01B","x":36.3,"y":143},{"s":"0.01B","x":36.8,"y":144},{"s":"0.01B","x":37.3,"y":146},{"s":"0.01B","x":37.7,"y":152},{"s":"0.01B","x":38.0,"y":180},{"s":"0.01B","x":38.2,"y":320},{"s":"0.01B","x":38.45,"y":530},{"s":"0.01B","x":38.65,"y":420},{"s":"0.01B","x":38.85,"y":280},{"s":"0.01B","x":39.05,"y":220},{"s":"0.01B","x":39.3,"y":198},{"s":"0.01B","x":39.55,"y":190},{"s":"0.01B","x":39.8,"y":210},{"s":"0.01B","x":40.0,"y":270},{"s":"0.01B","x":40.2,"y":334},{"s":"0.01B","x":40.4,"y":270},{"s":"0.01B","x":40.6,"y":195},{"s":"0.01B","x":40.85,"y":162},{"s":"0.01B","x":41.2,"y":148},{"s":"0.01B","x":41.7,"y":142},{"s":"0.01B","x":42.3,"y":140},{"s":"0.01B","x":43,"y":139},{"s":"0.01B","x":43.5,"y":137},{"s":"0.01B","x":44,"y":138},{"s":"0.01B","x":44.5,"y":136},{"s":"0.01B","x":45,"y":138},{"s":"0.01B","x":45.5,"y":136},{"s":"0.01B","x":46,"y":137},{"s":"0.01B","x":46.5,"y":135},{"s":"0.01B","x":47,"y":137},{"s":"0.01B","x":47.5,"y":135},{"s":"0.01B","x":48,"y":136},{"s":"0.01B","x":48.5,"y":134},{"s":"0.01B","x":49,"y":136},{"s":"0.01B","x":49.5,"y":134},{"s":"0.01B","x":50,"y":136},{"s":"0.01B","x":50.5,"y":135},{"s":"0.01B","x":51,"y":137},{"s":"0.01B","x":51.5,"y":136},{"s":"0.01B","x":52,"y":138},{"s":"0.01B","x":52.4,"y":143},{"s":"0.01B","x":52.7,"y":158},{"s":"0.01B","x":52.9,"y":182},{"s":"0.01B","x":53.05,"y":200},{"s":"0.01B","x":53.2,"y":185},{"s":"0.01B","x":53.45,"y":160},{"s":"0.01B","x":53.8,"y":146},{"s":"0.01B","x":54.3,"y":140},{"s":"0.01B","x":55,"y":139},{"s":"0.01B","x":55.6,"y":141},{"s":"0.01B","x":56.1,"y":144},{"s":"0.01B","x":56.45,"y":149},{"s":"0.01B","x":56.7,"y":152},{"s":"0.01B","x":57.0,"y":147},{"s":"0.01B","x":57.4,"y":141},{"s":"0.01B","x":58,"y":137},{"s":"0.01B","x":58.5,"y":136},{"s":"0.01B","x":59,"y":137},{"s":"0.01B","x":59.5,"y":135},{"s":"0.01B","x":60,"y":137},{"s":"0.01B","x":60.5,"y":136},{"s":"0.01B","x":61,"y":138},{"s":"0.01B","x":61.5,"y":136},{"s":"0.01B","x":62,"y":137},{"s":"0.01B","x":62.5,"y":139},{"s":"0.01B","x":62.9,"y":144},{"s":"0.01B","x":63.2,"y":152},{"s":"0.01B","x":63.4,"y":161},{"s":"0.01B","x":63.65,"y":148},{"s":"0.01B","x":64,"y":141},{"s":"0.01B","x":64.5,"y":139},{"s":"0.01B","x":65,"y":137},{"s":"0.01B","x":65.5,"y":138},{"s":"0.01B","x":66,"y":136},{"s":"0.01B","x":66.5,"y":137},{"s":"0.01B","x":67,"y":136},{"s":"0.01B","x":67.5,"y":138},{"s":"0.01B","x":68,"y":139},{"s":"0.01B","x":68.5,"y":140},{"s":"0.01B","x":69,"y":142},{"s":"0.01B","x":69.5,"y":145},{"s":"0.01B","x":70.0,"y":152},{"s":"0.01B","x":70.3,"y":170},{"s":"0.01B","x":70.55,"y":220},{"s":"0.01B","x":70.75,"y":275},{"s":"0.01B","x":70.95,"y":300},{"s":"0.01B","x":71.15,"y":270},{"s":"0.01B","x":71.35,"y":215},{"s":"0.01B","x":71.6,"y":178},{"s":"0.01B","x":71.9,"y":156},{"s":"0.01B","x":72.3,"y":146},{"s":"0.01B","x":72.8,"y":142},{"s":"0.01B","x":73.3,"y":140},{"s":"0.01B","x":73.8,"y":139},{"s":"0.01B","x":74.3,"y":140},{"s":"0.01B","x":74.8,"y":142},{"s":"0.01B","x":75.3,"y":145},{"s":"0.01B","x":75.7,"y":152},{"s":"0.01B","x":76.0,"y":168},{"s":"0.01B","x":76.25,"y":190},{"s":"0.01B","x":76.45,"y":205},{"s":"0.01B","x":76.65,"y":185},{"s":"0.01B","x":76.9,"y":162},{"s":"0.01B","x":77.2,"y":152},{"s":"0.01B","x":77.5,"y":155},{"s":"0.01B","x":77.8,"y":147},{"s":"0.01B","x":78.2,"y":142},{"s":"0.01B","x":78.7,"y":140},{"s":"0.01B","x":79.2,"y":138},{"s":"0.01B","x":79.7,"y":139},{"s":"0.01B","x":80.2,"y":137},{"s":"0.01B","x":80.7,"y":138},{"s":"0.01B","x":81.2,"y":139},{"s":"0.01B","x":81.7,"y":142},{"s":"0.01B","x":82.1,"y":148},{"s":"0.01B","x":82.45,"y":156},{"s":"0.01B","x":82.7,"y":153},{"s":"0.01B","x":83.0,"y":145},{"s":"0.01B","x":83.4,"y":140},{"s":"0.01B","x":84,"y":139},{"s":"0.01B","x":84.5,"y":137},{"s":"0.01B","x":85,"y":138},{"s":"0.01B","x":85.5,"y":136},{"s":"0.01B","x":86,"y":137},{"s":"0.01B","x":86.5,"y":139},{"s":"0.01B","x":87,"y":137},{"s":"0.01B","x":87.5,"y":136},{"s":"0.01B","x":88,"y":137},{"s":"0.01B","x":88.5,"y":135},{"s":"0.01B","x":89,"y":136},{"s":"0.01B","x":90,"y":135},
{"s":"0B","x":20,"y":50},{"s":"0B","x":20.1,"y":56},{"s":"0B","x":20.3,"y":47},{"s":"0B","x":20.6,"y":44},{"s":"0B","x":20.9,"y":48},{"s":"0B","x":21.2,"y":41},{"s":"0B","x":21.5,"y":46},{"s":"0B","x":21.8,"y":42},{"s":"0B","x":22.1,"y":47},{"s":"0B","x":22.4,"y":43},{"s":"0B","x":22.7,"y":46},{"s":"0B","x":23,"y":42},{"s":"0B","x":23.3,"y":47},{"s":"0B","x":23.6,"y":44},{"s":"0B","x":23.9,"y":48},{"s":"0B","x":24.2,"y":43},{"s":"0B","x":24.5,"y":47},{"s":"0B","x":24.8,"y":44},{"s":"0B","x":25.1,"y":48},{"s":"0B","x":25.4,"y":42},{"s":"0B","x":25.7,"y":47},{"s":"0B","x":26,"y":45},{"s":"0B","x":26.3,"y":49},{"s":"0B","x":26.6,"y":43},{"s":"0B","x":26.9,"y":47},{"s":"0B","x":27.2,"y":44},{"s":"0B","x":27.5,"y":48},{"s":"0B","x":27.8,"y":45},{"s":"0B","x":28.1,"y":49},{"s":"0B","x":28.4,"y":43},{"s":"0B","x":28.7,"y":47},{"s":"0B","x":29,"y":44},{"s":"0B","x":29.3,"y":48},{"s":"0B","x":29.6,"y":43},{"s":"0B","x":29.9,"y":47},{"s":"0B","x":30.2,"y":44},{"s":"0B","x":30.5,"y":46},{"s":"0B","x":30.8,"y":42},{"s":"0B","x":31.1,"y":47},{"s":"0B","x":31.4,"y":44},{"s":"0B","x":31.7,"y":48},{"s":"0B","x":32,"y":45},{"s":"0B","x":32.3,"y":49},{"s":"0B","x":32.6,"y":46},{"s":"0B","x":32.9,"y":50},{"s":"0B","x":33.2,"y":47},{"s":"0B","x":33.5,"y":51},{"s":"0B","x":33.8,"y":48},{"s":"0B","x":34.1,"y":52},{"s":"0B","x":34.4,"y":50},{"s":"0B","x":34.7,"y":55},{"s":"0B","x":35.0,"y":60},{"s":"0B","x":35.15,"y":68},{"s":"0B","x":35.3,"y":73},{"s":"0B","x":35.45,"y":66},{"s":"0B","x":35.65,"y":56},{"s":"0B","x":35.9,"y":52},{"s":"0B","x":36.2,"y":50},{"s":"0B","x":36.5,"y":53},{"s":"0B","x":36.8,"y":49},{"s":"0B","x":37.1,"y":54},{"s":"0B","x":37.4,"y":57},{"s":"0B","x":37.65,"y":62},{"s":"0B","x":37.85,"y":85},{"s":"0B","x":38.05,"y":160},{"s":"0B","x":38.22,"y":330},{"s":"0B","x":38.4,"y":436},{"s":"0B","x":38.55,"y":360},{"s":"0B","x":38.7,"y":230},{"s":"0B","x":38.85,"y":165},{"s":"0B","x":39.0,"y":150},{"s":"0B","x":39.15,"y":155},{"s":"0B","x":39.3,"y":140},{"s":"0B","x":39.45,"y":110},{"s":"0B","x":39.6,"y":88},{"s":"0B","x":39.75,"y":85},{"s":"0B","x":39.9,"y":120},{"s":"0B","x":40.05,"y":200},{"s":"0B","x":40.2,"y":270},{"s":"0B","x":40.3,"y":275},{"s":"0B","x":40.45,"y":210},{"s":"0B","x":40.6,"y":130},{"s":"0B","x":40.8,"y":75},{"s":"0B","x":41.0,"y":60},{"s":"0B","x":41.3,"y":55},{"s":"0B","x":41.6,"y":51},{"s":"0B","x":42.0,"y":49},{"s":"0B","x":42.4,"y":47},{"s":"0B","x":42.8,"y":49},{"s":"0B","x":43.2,"y":46},{"s":"0B","x":43.6,"y":48},{"s":"0B","x":44,"y":45},{"s":"0B","x":44.4,"y":47},{"s":"0B","x":44.8,"y":44},{"s":"0B","x":45.2,"y":46},{"s":"0B","x":45.6,"y":43},{"s":"0B","x":46,"y":46},{"s":"0B","x":46.4,"y":44},{"s":"0B","x":46.8,"y":46},{"s":"0B","x":47.2,"y":43},{"s":"0B","x":47.6,"y":45},{"s":"0B","x":48,"y":42},{"s":"0B","x":48.4,"y":45},{"s":"0B","x":48.8,"y":43},{"s":"0B","x":49.2,"y":46},{"s":"0B","x":49.6,"y":42},{"s":"0B","x":50,"y":45},{"s":"0B","x":50.4,"y":43},{"s":"0B","x":50.8,"y":46},{"s":"0B","x":51.2,"y":43},{"s":"0B","x":51.6,"y":45},{"s":"0B","x":52,"y":47},{"s":"0B","x":52.4,"y":52},{"s":"0B","x":52.7,"y":68},{"s":"0B","x":52.9,"y":98},{"s":"0B","x":53.05,"y":114},{"s":"0B","x":53.15,"y":108},{"s":"0B","x":53.35,"y":88},{"s":"0B","x":53.6,"y":62},{"s":"0B","x":53.9,"y":53},{"s":"0B","x":54.3,"y":50},{"s":"0B","x":54.7,"y":48},{"s":"0B","x":55.1,"y":46},{"s":"0B","x":55.5,"y":48},{"s":"0B","x":55.9,"y":50},{"s":"0B","x":56.2,"y":55},{"s":"0B","x":56.5,"y":61},{"s":"0B","x":56.75,"y":64},{"s":"0B","x":57.0,"y":60},{"s":"0B","x":57.3,"y":53},{"s":"0B","x":57.7,"y":48},{"s":"0B","x":58.1,"y":46},{"s":"0B","x":58.5,"y":44},{"s":"0B","x":58.9,"y":47},{"s":"0B","x":59.3,"y":44},{"s":"0B","x":59.7,"y":46},{"s":"0B","x":60,"y":43},{"s":"0B","x":60.3,"y":49},{"s":"0B","x":60.6,"y":44},{"s":"0B","x":61,"y":46},{"s":"0B","x":61.4,"y":43},{"s":"0B","x":61.8,"y":45},{"s":"0B","x":62.2,"y":44},{"s":"0B","x":62.6,"y":48},{"s":"0B","x":62.9,"y":54},{"s":"0B","x":63.15,"y":64},{"s":"0B","x":63.35,"y":75},{"s":"0B","x":63.5,"y":62},{"s":"0B","x":63.8,"y":52},{"s":"0B","x":64.2,"y":47},{"s":"0B","x":64.6,"y":45},{"s":"0B","x":65,"y":44},{"s":"0B","x":65.4,"y":46},{"s":"0B","x":65.8,"y":43},{"s":"0B","x":66.2,"y":45},{"s":"0B","x":66.6,"y":44},{"s":"0B","x":67,"y":46},{"s":"0B","x":67.4,"y":44},{"s":"0B","x":67.8,"y":46},{"s":"0B","x":68.2,"y":45},{"s":"0B","x":68.6,"y":48},{"s":"0B","x":69,"y":47},{"s":"0B","x":69.4,"y":50},{"s":"0B","x":69.8,"y":54},{"s":"0B","x":70.1,"y":65},{"s":"0B","x":70.4,"y":95},{"s":"0B","x":70.65,"y":160},{"s":"0B","x":70.85,"y":200},{"s":"0B","x":71.0,"y":195},{"s":"0B","x":71.2,"y":155},{"s":"0B","x":71.45,"y":95},{"s":"0B","x":71.7,"y":65},{"s":"0B","x":72.0,"y":55},{"s":"0B","x":72.4,"y":52},{"s":"0B","x":72.8,"y":50},{"s":"0B","x":73.2,"y":49},{"s":"0B","x":73.6,"y":51},{"s":"0B","x":74,"y":48},{"s":"0B","x":74.4,"y":50},{"s":"0B","x":74.8,"y":49},{"s":"0B","x":75.2,"y":52},{"s":"0B","x":75.5,"y":56},{"s":"0B","x":75.8,"y":70},{"s":"0B","x":76.05,"y":95},{"s":"0B","x":76.3,"y":115},{"s":"0B","x":76.5,"y":108},{"s":"0B","x":76.75,"y":82},{"s":"0B","x":77.0,"y":64},{"s":"0B","x":77.3,"y":60},{"s":"0B","x":77.55,"y":63},{"s":"0B","x":77.8,"y":56},{"s":"0B","x":78.2,"y":50},{"s":"0B","x":78.6,"y":48},{"s":"0B","x":79,"y":46},{"s":"0B","x":79.4,"y":47},{"s":"0B","x":79.8,"y":45},{"s":"0B","x":80.2,"y":46},{"s":"0B","x":80.6,"y":44},{"s":"0B","x":81,"y":45},{"s":"0B","x":81.4,"y":46},{"s":"0B","x":81.8,"y":50},{"s":"0B","x":82.1,"y":58},{"s":"0B","x":82.4,"y":66},{"s":"0B","x":82.6,"y":70},{"s":"0B","x":82.8,"y":63},{"s":"0B","x":83.1,"y":54},{"s":"0B","x":83.5,"y":49},{"s":"0B","x":83.9,"y":47},{"s":"0B","x":84.3,"y":45},{"s":"0B","x":84.7,"y":46},{"s":"0B","x":85.1,"y":44},{"s":"0B","x":85.5,"y":45},{"s":"0B","x":85.9,"y":43},{"s":"0B","x":86.3,"y":44},{"s":"0B","x":86.7,"y":47},{"s":"0B","x":87.1,"y":44},{"s":"0B","x":87.5,"y":45},{"s":"0B","x":87.9,"y":42},{"s":"0B","x":88.3,"y":44},{"s":"0B","x":88.7,"y":43},{"s":"0B","x":89.1,"y":44},{"s":"0B","x":89.5,"y":42},{"s":"0B","x":90,"y":43}
  ]
},
"hconcat": [
  {
    "width": 1472, "height": 1032,
    "resolve": {"scale": {"x": "independent", "y": "independent"}, "axis": {"x": "independent", "y": "independent"}},
    "layer": [
      {
        "resolve": {"axis": {"x": "independent", "y": "independent"}},
        "layer": [
          {"data": {"name": "phase"}, "mark": {"type": "line", "color": "black", "strokeWidth": 3},
           "encoding": {
             "x": {"field": "x", "type": "quantitative", "scale": {"domain": [0, 3], "nice": false, "zero": false},
                   "axis": {"orient": "bottom", "title": "B (wt.%)", "values": [0, 0.5, 1, 1.5, 2, 2.5, 3], "format": "d", "labelExpr": "datum.value % 1 === 0 ? datum.label : ''", "tickSize": {"condition": {"test": "datum.value % 1 !== 0", "value": 9}, "value": 18}, "domain": false, "labelPadding": 8, "titlePadding": -5}},
             "y": {"field": "y", "type": "quantitative", "scale": {"domain": [1400, 1800], "nice": false, "zero": false},
                   "axis": {"orient": "left", "title": "Temperature (°C)", "titleFontSize": 73, "values": [1400, 1450, 1500, 1550, 1600, 1650, 1700, 1750, 1800], "format": "d", "labelExpr": "datum.value % 100 === 0 ? datum.label : ''", "tickSize": {"condition": {"test": "datum.value % 100 !== 0", "value": 8}, "value": 16}, "domain": false, "labelPadding": 15, "titlePadding": 27}},
             "detail": {"field": "seg"}
           }},
          {"data": {"name": "mainv"}, "mark": {"type": "rule", "color": "#ff0000", "strokeWidth": 3.5, "strokeDash": [14, 8]},
           "encoding": {
             "x": {"field": "x", "type": "quantitative", "scale": {"domain": [0, 3], "nice": false, "zero": false},
                   "axis": {"orient": "top", "title": null, "labels": false, "values": [0.375, 0.75, 1.125, 1.5, 1.875, 2.25, 2.625], "tickSize": -20, "domain": false}},
             "y": {"field": "y1", "type": "quantitative", "scale": {"domain": [1400, 1800], "nice": false, "zero": false},
                   "axis": {"orient": "right", "title": null, "labels": false, "values": [1450, 1500, 1550, 1600, 1650, 1700, 1750], "tickSize": -15, "domain": false}},
             "y2": {"field": "y2"}
           }},
          {"data": {"name": "box"}, "mark": {"type": "rect", "fill": "transparent", "stroke": "#ff0000", "strokeWidth": 4, "strokeDash": [12, 8]},
           "encoding": {
             "x": {"field": "x1", "type": "quantitative", "scale": {"domain": [0, 3], "nice": false, "zero": false}, "axis": null},
             "x2": {"field": "x2"},
             "y": {"field": "y1", "type": "quantitative", "scale": {"domain": [1400, 1800], "nice": false, "zero": false}, "axis": null},
             "y2": {"field": "y2"}
           }},
          {"data": {"name": "redArrow"}, "mark": {"type": "line", "color": "#ff0000", "strokeWidth": 5, "strokeDash": [9, 7]},
           "encoding": {
             "x": {"field": "x", "type": "quantitative", "scale": {"domain": [0, 3], "nice": false, "zero": false}, "axis": null},
             "y": {"field": "y", "type": "quantitative", "scale": {"domain": [1400, 1800], "nice": false, "zero": false}, "axis": null}
           }},
          {"data": {"name": "blackArrow"}, "mark": {"type": "line", "color": "black", "strokeWidth": 4},
           "encoding": {
             "x": {"field": "x", "type": "quantitative", "scale": {"domain": [0, 3], "nice": false, "zero": false}, "axis": null},
             "y": {"field": "y", "type": "quantitative", "scale": {"domain": [1400, 1800], "nice": false, "zero": false}, "axis": null}
           }},
          {"data": {"name": "redHead"}, "mark": {"type": "point", "shape": "M0,-1L0.6,1L-0.6,1Z", "filled": true, "color": "#ff0000", "opacity": 1, "size": 1600, "angle": 251},
           "encoding": {
             "x": {"field": "x", "type": "quantitative", "scale": {"domain": [0, 3], "nice": false, "zero": false}, "axis": null},
             "y": {"field": "y", "type": "quantitative", "scale": {"domain": [1400, 1800], "nice": false, "zero": false}, "axis": null}
           }},
          {"data": {"name": "blackHead"}, "mark": {"type": "point", "shape": "M0,-1L0.55,1L-0.55,1Z", "filled": true, "color": "black", "opacity": 1, "size": 1000, "angle": 316.6},
           "encoding": {
             "x": {"field": "x", "type": "quantitative", "scale": {"domain": [0, 3], "nice": false, "zero": false}, "axis": null},
             "y": {"field": "y", "type": "quantitative", "scale": {"domain": [1400, 1800], "nice": false, "zero": false}, "axis": null}
           }},
          {"data": {"name": "itC"}, "mark": {"type": "text", "fontSize": 80, "fontStyle": "italic", "align": "center", "baseline": "alphabetic", "color": "black"},
           "encoding": {
             "x": {"field": "x", "type": "quantitative", "scale": {"domain": [0, 3], "nice": false, "zero": false}, "axis": null},
             "y": {"field": "y", "type": "quantitative", "scale": {"domain": [1400, 1800], "nice": false, "zero": false}, "axis": null},
             "text": {"field": "t"}
           }},
          {"data": {"name": "itR"}, "mark": {"type": "text", "fontSize": 80, "fontStyle": "italic", "align": "right", "baseline": "alphabetic", "color": "black"},
           "encoding": {
             "x": {"field": "x", "type": "quantitative", "scale": {"domain": [0, 3], "nice": false, "zero": false}, "axis": null},
             "y": {"field": "y", "type": "quantitative", "scale": {"domain": [1400, 1800], "nice": false, "zero": false}, "axis": null},
             "text": {"field": "t"}
           }},
          {"data": {"name": "upL"}, "mark": {"type": "text", "fontSize": 80, "align": "left", "baseline": "alphabetic", "color": "black"},
           "encoding": {
             "x": {"field": "x", "type": "quantitative", "scale": {"domain": [0, 3], "nice": false, "zero": false}, "axis": null},
             "y": {"field": "y", "type": "quantitative", "scale": {"domain": [1400, 1800], "nice": false, "zero": false}, "axis": null},
             "text": {"field": "t"}
           }},
          {"data": {"name": "redLab"}, "mark": {"type": "text", "fontSize": 75, "angle": 270, "align": "center", "baseline": "middle", "color": "#ff0000"},
           "encoding": {
             "x": {"field": "x", "type": "quantitative", "scale": {"domain": [0, 3], "nice": false, "zero": false}, "axis": null},
             "y": {"field": "y", "type": "quantitative", "scale": {"domain": [1400, 1800], "nice": false, "zero": false}, "axis": null},
             "text": {"field": "t"}
           }},
          {"data": {"name": "panelA"}, "mark": {"type": "text", "fontSize": 88, "align": "center", "baseline": "middle", "color": "black"},
           "encoding": {
             "x": {"field": "x", "type": "quantitative", "scale": {"domain": [0, 3], "nice": false, "zero": false}, "axis": null},
             "y": {"field": "y", "type": "quantitative", "scale": {"domain": [1400, 1800], "nice": false, "zero": false}, "axis": null},
             "text": {"field": "t"}
           }}
        ]
      },
      {
        "resolve": {"axis": {"x": "independent", "y": "independent"}},
        "layer": [
          {"data": {"name": "inset"}, "mark": {"type": "line", "color": "#666666", "strokeWidth": 2.5},
           "encoding": {
             "x": {"field": "x", "type": "quantitative", "scale": {"domain": [0, 0.15], "range": [687, 1144], "nice": false, "zero": false},
                   "axis": {"orient": "bottom", "offset": -633.5, "title": "B (wt.%)", "titleFontSize": 54, "titlePadding": 0, "values": [0, 0.05, 0.1, 0.15], "format": ".2f", "labelFontSize": 52, "labelPadding": 12, "tickSize": 8, "tickWidth": 2, "domain": true, "domainWidth": 2.5}},
             "y": {"field": "y", "type": "quantitative", "scale": {"domain": [1400, 1800], "range": [398.5, 35], "nice": false, "zero": false},
                   "axis": {"orient": "left", "offset": -687, "title": "T (°C)", "titleFontSize": 54, "titleAngle": 0, "titleX": -79, "titleY": 46, "titleAlign": "center", "titleBaseline": "middle", "values": [1400, 1500, 1600, 1700], "format": "d", "labelFontSize": 52, "labelPadding": 4, "labelOffset": {"condition": {"test": "datum.value === 1400", "value": -12}, "value": 0}, "tickSize": 8, "tickWidth": 2, "domain": true, "domainWidth": 2.5}},
             "detail": {"field": "seg"}
           }},
          {"data": {"name": "insetv"}, "mark": {"type": "rule", "color": "#ff0000", "strokeWidth": 3, "strokeDash": [10, 7]},
           "encoding": {
             "x": {"field": "x", "type": "quantitative", "scale": {"domain": [0, 0.15], "range": [687, 1144], "nice": false, "zero": false},
                   "axis": {"orient": "top", "offset": -35, "title": null, "labels": false, "values": [0.0125, 0.025, 0.0375, 0.05, 0.0625, 0.075, 0.0875, 0.1, 0.1125, 0.125, 0.1375], "tickSize": -8, "tickWidth": 2, "domain": true, "domainWidth": 2.5}},
             "y": {"field": "y1", "type": "quantitative", "scale": {"domain": [1400, 1800], "range": [398.5, 35], "nice": false, "zero": false},
                   "axis": {"orient": "right", "offset": -328, "title": null, "labels": false, "values": [1450, 1500, 1550, 1600, 1650, 1700, 1750], "tickSize": -8, "tickWidth": 2, "domain": true, "domainWidth": 2.5}},
             "y2": {"field": "y2"}
           }},
          {"data": {"name": "inItC"}, "mark": {"type": "text", "fontSize": 52, "fontStyle": "italic", "align": "center", "baseline": "alphabetic", "color": "black"},
           "encoding": {
             "x": {"field": "x", "type": "quantitative", "scale": {"domain": [0, 0.15], "range": [687, 1144], "nice": false, "zero": false}, "axis": null},
             "y": {"field": "y", "type": "quantitative", "scale": {"domain": [1400, 1800], "range": [398.5, 35], "nice": false, "zero": false}, "axis": null},
             "text": {"field": "t"}
           }},
          {"data": {"name": "inItR"}, "mark": {"type": "text", "fontSize": 52, "fontStyle": "italic", "align": "right", "baseline": "alphabetic", "color": "black"},
           "encoding": {
             "x": {"field": "x", "type": "quantitative", "scale": {"domain": [0, 0.15], "range": [687, 1144], "nice": false, "zero": false}, "axis": null},
             "y": {"field": "y", "type": "quantitative", "scale": {"domain": [1400, 1800], "range": [398.5, 35], "nice": false, "zero": false}, "axis": null},
             "text": {"field": "t"}
           }},
          {"data": {"name": "inUpL"}, "mark": {"type": "text", "fontSize": 52, "align": "left", "baseline": "alphabetic", "color": "black"},
           "encoding": {
             "x": {"field": "x", "type": "quantitative", "scale": {"domain": [0, 0.15], "range": [687, 1144], "nice": false, "zero": false}, "axis": null},
             "y": {"field": "y", "type": "quantitative", "scale": {"domain": [1400, 1800], "range": [398.5, 35], "nice": false, "zero": false}, "axis": null},
             "text": {"field": "t"}
           }},
          {"data": {"name": "inRed"}, "mark": {"type": "text", "fontSize": 55, "angle": 270, "align": "center", "baseline": "middle", "color": "#ff0000"},
           "encoding": {
             "x": {"field": "x", "type": "quantitative", "scale": {"domain": [0, 0.15], "range": [687, 1144], "nice": false, "zero": false}, "axis": null},
             "y": {"field": "y", "type": "quantitative", "scale": {"domain": [1400, 1800], "range": [398.5, 35], "nice": false, "zero": false}, "axis": null},
             "text": {"field": "t"}
           }}
        ]
      }
    ]
  },
  {
    "width": 1564, "height": 1032,
    "resolve": {"axis": {"x": "independent", "y": "independent"}},
    "layer": [
      {"data": {"name": "xrd"}, "mark": {"type": "line", "strokeWidth": 2},
       "encoding": {
         "x": {"field": "x", "type": "quantitative", "scale": {"domain": [20, 90], "nice": false, "zero": false},
               "axis": {"orient": "bottom", "title": "2θ (°)", "values": [20, 25, 30, 35, 40, 45, 50, 55, 60, 65, 70, 75, 80, 85, 90], "format": "d", "labelExpr": "datum.value % 10 === 0 ? datum.label : ''", "tickSize": {"condition": {"test": "datum.value % 10 !== 0", "value": 9}, "value": 18}, "domain": false, "labelPadding": 8, "titlePadding": 8}},
         "y": {"field": "y", "type": "quantitative", "scale": {"domain": [0, 1032], "nice": false, "zero": false},
               "axis": {"orient": "left", "title": "Intensity (a.u.)", "labels": false, "ticks": false, "domain": true, "domainOpacity": 0, "titlePadding": 40}},
         "color": {"field": "s", "type": "nominal", "legend": null, "scale": {"domain": ["2B", "1B", "0.1B", "0.05B", "0.01B", "0B", "α", "β", "TiB"], "range": ["#ff1a1a", "#5b189e", "#1477bb", "#00896a", "#b24dff", "#000000", "#ff0000", "#00007a", "#11ee11"]}},
         "strokeDash": {"field": "s", "type": "nominal", "legend": null, "scale": {"domain": ["2B", "1B", "0.1B", "0.05B", "0.01B", "0B"], "range": [[1, 0], [1, 0], [1, 0], [3, 6], [3, 6], [1, 0]]}}
       }},
      {"data": {"name": "circles"}, "mark": {"type": "point", "shape": "circle", "filled": true, "opacity": 1, "size": 260},
       "encoding": {
         "x": {"field": "x", "type": "quantitative", "scale": {"domain": [20, 90], "nice": false, "zero": false}, "axis": null},
         "y": {"field": "y", "type": "quantitative", "scale": {"domain": [0, 1032], "nice": false, "zero": false}, "axis": null},
         "color": {"field": "phase", "type": "nominal", "legend": null, "scale": {"domain": ["2B", "1B", "0.1B", "0.05B", "0.01B", "0B", "α", "β", "TiB"], "range": ["#ff1a1a", "#5b189e", "#1477bb", "#00896a", "#b24dff", "#000000", "#ff0000", "#00007a", "#11ee11"]}}
       }},
      {"data": {"name": "diamonds"}, "mark": {"type": "point", "shape": "M0,-1L0.8,0L0,1L-0.8,0Z", "filled": true, "opacity": 1, "size": 650},
       "encoding": {
         "x": {"field": "x", "type": "quantitative", "scale": {"domain": [20, 90], "nice": false, "zero": false}, "axis": null},
         "y": {"field": "y", "type": "quantitative", "scale": {"domain": [0, 1032], "nice": false, "zero": false}, "axis": null},
         "color": {"field": "phase", "type": "nominal", "legend": null, "scale": {"domain": ["2B", "1B", "0.1B", "0.05B", "0.01B", "0B", "α", "β", "TiB"], "range": ["#ff1a1a", "#5b189e", "#1477bb", "#00896a", "#b24dff", "#000000", "#ff0000", "#00007a", "#11ee11"]}}
       }},
      {"data": {"name": "legC"}, "mark": {"type": "point", "shape": "circle", "filled": true, "opacity": 1, "size": 600},
       "encoding": {
         "x": {"field": "x", "type": "quantitative", "scale": {"domain": [20, 90], "nice": false, "zero": false}, "axis": null},
         "y": {"field": "y", "type": "quantitative", "scale": {"domain": [0, 1032], "nice": false, "zero": false}, "axis": null},
         "color": {"field": "phase", "type": "nominal", "legend": null, "scale": {"domain": ["2B", "1B", "0.1B", "0.05B", "0.01B", "0B", "α", "β", "TiB"], "range": ["#ff1a1a", "#5b189e", "#1477bb", "#00896a", "#b24dff", "#000000", "#ff0000", "#00007a", "#11ee11"]}}
       }},
      {"data": {"name": "legD"}, "mark": {"type": "point", "shape": "M0,-1L0.68,0L0,1L-0.68,0Z", "filled": true, "opacity": 1, "size": 2900},
       "encoding": {
         "x": {"field": "x", "type": "quantitative", "scale": {"domain": [20, 90], "nice": false, "zero": false}, "axis": null},
         "y": {"field": "y", "type": "quantitative", "scale": {"domain": [0, 1032], "nice": false, "zero": false}, "axis": null},
         "color": {"field": "phase", "type": "nominal", "legend": null, "scale": {"domain": ["2B", "1B", "0.1B", "0.05B", "0.01B", "0B", "α", "β", "TiB"], "range": ["#ff1a1a", "#5b189e", "#1477bb", "#00896a", "#b24dff", "#000000", "#ff0000", "#00007a", "#11ee11"]}}
       }},
      {"data": {"name": "legT"}, "mark": {"type": "text", "fontSize": 82, "align": "left", "baseline": "alphabetic", "color": "black"},
       "encoding": {
         "x": {"field": "x", "type": "quantitative", "scale": {"domain": [20, 90], "nice": false, "zero": false}, "axis": null},
         "y": {"field": "y", "type": "quantitative", "scale": {"domain": [0, 1032], "nice": false, "zero": false}, "axis": null},
         "text": {"field": "t"}
       }},
      {"data": {"name": "serLab"}, "mark": {"type": "text", "fontSize": 80, "align": "right", "baseline": "alphabetic"},
       "encoding": {
         "x": {"field": "x", "type": "quantitative", "scale": {"domain": [20, 90], "nice": false, "zero": false}, "axis": null},
         "y": {"field": "y", "type": "quantitative", "scale": {"domain": [0, 1032], "nice": false, "zero": false}, "axis": null},
         "text": {"field": "s"},
         "color": {"condition": {"test": "datum.s === '0B'", "value": "#3d3d3d"}, "field": "s", "type": "nominal", "legend": null, "scale": {"domain": ["2B", "1B", "0.1B", "0.05B", "0.01B", "0B", "α", "β", "TiB"], "range": ["#ff1a1a", "#5b189e", "#1477bb", "#00896a", "#b24dff", "#000000", "#ff0000", "#00007a", "#11ee11"]}}
       }},
      {"data": {"name": "panelB"}, "mark": {"type": "text", "fontSize": 88, "align": "center", "baseline": "middle", "color": "black"},
       "encoding": {
         "x": {"field": "x", "type": "quantitative", "scale": {"domain": [20, 90], "nice": false, "zero": false}, "axis": null},
         "y": {"field": "y", "type": "quantitative", "scale": {"domain": [0, 1032], "nice": false, "zero": false}, "axis": null},
         "text": {"field": "t"}
       }}
    ]
  }
]
}
